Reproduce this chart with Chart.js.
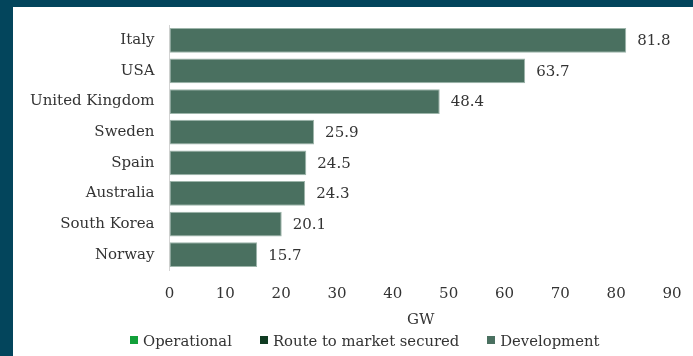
<!DOCTYPE html>
<html>
<head>
<meta charset="utf-8">
<script src="https://cdn.jsdelivr.net/npm/chart.js@4"></script>
<style>
  html, body { margin: 0; padding: 0; background: #03455c; }
  body { width: 693px; height: 356px; position: relative; overflow: hidden; }
  #wrap { position: absolute; left: 13px; top: 7px; width: 680px; height: 349px; background: #fff; }
  #legend {
    position: absolute; left: 117px; top: 324px; height: 18px;
    display: flex; align-items: center; gap: 28px;
    font: 14.8px "DejaVu Serif", serif; color: #333; white-space: nowrap;
  }
  #legend span.item { display: flex; align-items: center; }
  #legend i { display: inline-block; width: 8px; height: 8px; margin-right: 5px; }
</style>
</head>
<body>
<div id="wrap">
  <canvas id="chart"></canvas>
  <div id="legend"></div>
</div>
<script>
const countries = ["Italy", "USA", "United Kingdom", "Sweden", "Spain", "Australia", "South Korea", "Norway"];
const operational = [0, 0, 0, 0, 0, 0, 0, 0];
const routeToMarket = [0, 0, 0, 0, 0, 0, 0, 0];
const development = [81.8, 63.7, 48.4, 25.9, 24.5, 24.3, 20.1, 15.7];
const xTicks = [0, 10, 20, 30, 40, 50, 60, 70, 80, 90];

const FONT = "'DejaVu Serif', serif";
Chart.defaults.font.family = FONT;

// writes the total at the end of each bar
const valueLabels = {
  id: "valueLabels",
  afterDatasetsDraw(chart) {
    const ctx = chart.ctx;
    const meta = chart.getDatasetMeta(2);
    ctx.save();
    ctx.font = "15px " + FONT;
    ctx.fillStyle = "#333";
    ctx.textBaseline = "middle";
    meta.data.forEach((bar, i) => {
      const total = operational[i] + routeToMarket[i] + development[i];
      ctx.fillText(total.toFixed(1), bar.x + 11, bar.y + 1);
    });
    ctx.restore();
  },
};

// the tick padding shouldn't also push the plot area in from the ends
const noEdgePadding = (s) => {
  s.paddingTop = 0;
  s.paddingBottom = 0;
  s.paddingLeft = 0;
  s.paddingRight = 0;
};

const chart = new Chart(document.getElementById("chart"), {
  type: "bar",
  data: {
    labels: countries,
    datasets: [
      { label: "Operational", data: operational, backgroundColor: "#12a03a", borderWidth: 0 },
      { label: "Route to market secured", data: routeToMarket, backgroundColor: "#0f3b22", borderWidth: 0 },
      {
        label: "Development",
        data: development,
        backgroundColor: "#4a7060",
        borderColor: "#9db5aa",
        borderWidth: 1,
        borderSkipped: false,
      },
    ],
  },
  options: {
    indexAxis: "y",
    responsive: true,
    maintainAspectRatio: false,
    animation: false,
    layout: { padding: { top: 18, right: 21, left: 2, bottom: 27 } },
    datasets: { bar: { categoryPercentage: 1, barPercentage: 0.81 } },
    scales: {
      x: {
        stacked: true,
        min: 0,
        max: 90,
        afterBuildTicks: (axis) => { axis.ticks = xTicks.map((v) => ({ value: v })); },
        afterFit: noEdgePadding,
        grid: { display: false, drawTicks: false },
        border: { display: false },
        ticks: { color: "#333", font: { size: 15 }, padding: 15 },
        title: { display: true, text: "GW", color: "#333", font: { size: 15 }, padding: { top: -7, bottom: 0 } },
      },
      y: {
        stacked: true,
        afterFit: noEdgePadding,
        grid: { display: false, drawTicks: false },
        border: { display: true, color: "#d4d4d4", width: 1 },
        ticks: { color: "#333", font: { size: 15 }, padding: 15 },
      },
    },
    plugins: {
      legend: { display: false },
      tooltip: { enabled: false },
    },
  },
  plugins: [valueLabels],
});

// legend row under the axis title
const legendEl = document.getElementById("legend");
chart.data.datasets.forEach((ds) => {
  const item = document.createElement("span");
  item.className = "item";
  const box = document.createElement("i");
  box.style.background = ds.backgroundColor;
  item.appendChild(box);
  item.appendChild(document.createTextNode(ds.label));
  legendEl.appendChild(item);
});
</script>
</body>
</html>
